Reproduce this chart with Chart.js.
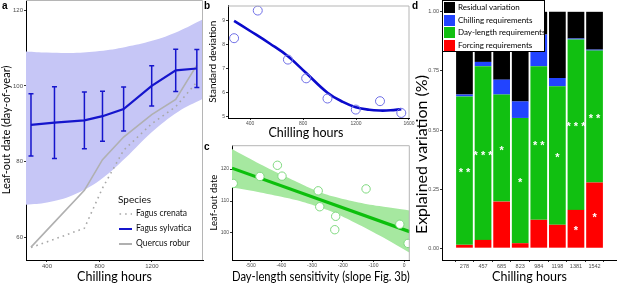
<!DOCTYPE html>
<html>
<head>
<meta charset="utf-8">
<script src="https://cdn.jsdelivr.net/npm/chart.js@4.4.1/dist/chart.umd.min.js"></script>
<style>
  body { margin: 0; background: #fff; }
  #wrap { position: relative; width: 617px; height: 284px; overflow: hidden; font-family: Lato, sans-serif; }
  canvas { position: absolute; }
  .tag { position: absolute; font: bold 10px "Liberation Sans", Arial, sans-serif; }
  .txt { position: absolute; white-space: nowrap; color: #111; }
  #legD { position: absolute; left: 442px; top: 0; width: 101px; height: 50px; background: #fff; border: 1px solid #000; }
  #legD div { position: absolute; left: 1px; width: 11px; height: 11px; }
  #legD span { position: absolute; left: 15px; font-size: 8px; line-height: 11px; white-space: nowrap; }
</style>
</head>
<body>
<div id="wrap">
  <canvas id="ca" width="206" height="284" style="left:0;top:0"></canvas>
  <canvas id="cb" width="215" height="142" style="left:200px;top:0"></canvas>
  <canvas id="cc" width="215" height="144" style="left:200px;top:140px"></canvas>
  <canvas id="cd" width="205" height="284" style="left:412px;top:0"></canvas>

  <div class="tag" style="left:2px;top:0">a</div>
  <div class="tag" style="left:204px;top:0">b</div>
  <div class="tag" style="left:204px;top:141px">c</div>
  <div class="tag" style="left:412px;top:0">d</div>

  <!-- legend of panel a -->
  <div class="txt" style="left:118px;top:193px;font-size:10px">Species</div>
  <svg style="position:absolute;left:118px;top:208px" width="16" height="42">
    <line x1="1.5" y1="6" x2="14" y2="6" stroke="#a8a8a8" stroke-width="1.6" stroke-dasharray="1.6 4" />
    <line x1="1" y1="21" x2="14" y2="21" stroke="#1515cc" stroke-width="2" />
    <line x1="1" y1="36" x2="14" y2="36" stroke="#b0b0b0" stroke-width="2" />
  </svg>
  <div class="txt" style="left:136px;top:208px;font-size:8.5px">Fagus crenata</div>
  <div class="txt" style="left:136px;top:223px;font-size:8.5px">Fagus sylvatica</div>
  <div class="txt" style="left:136px;top:238px;font-size:8.5px">Quercus robur</div>

  <!-- legend of panel d -->
  <div id="legD">
    <div style="top:1px;background:#000"></div><span style="top:1px">Residual variation</span>
    <div style="top:13.5px;background:#2244ff"></div><span style="top:13.5px">Chilling requirements</span>
    <div style="top:26px;background:#11c011"></div><span style="top:26px">Day-length requirements</span>
    <div style="top:38.5px;background:#ff0000"></div><span style="top:38.5px">Forcing requirements</span>
  </div>
</div>

<script>
// shared categories: chilling hours of the 8 sites
var chill = [278, 457, 685, 823, 984, 1198, 1381, 1542];

// panel a: leaf-out date (day-of-year)
var sylvMean = [89.7, 90.3, 90.9, 92.0, 93.9, 100.0, 104.1, 104.6];
var sylvErr = [8.2, 9.5, 7.5, 6.6, 5.8, 5.3, 5.6, 5.0];
var crenata = [57.3, 59.5, 62.4, 73.0, 83.0, 90.0, 94.5, 101.0];
var quercus = [57.4, 64.0, 72.4, 80.5, 86.5, 92.4, 96.4, 105.5];
var bandX = [240, 400, 600, 800, 1000, 1200, 1400, 1589];
var bandHi = [109.1, 108.8, 108.7, 109.2, 110.3, 111.9, 114.4, 117.6];
var bandLo = [68.6, 69.2, 71.2, 75.0, 81.0, 87.8, 93.2, 96.6];

// panel b: standard deviation vs chilling hours
var sdObs = [8.25, 9.4, 7.36, 6.58, 5.74, 5.28, 5.63, 5.14];
var sdFitX = [278, 400, 550, 685, 823, 984, 1100, 1198, 1300, 1381, 1460, 1542];
var sdFit = [8.97, 8.55, 8.02, 7.5, 6.8, 5.98, 5.6, 5.38, 5.27, 5.24, 5.25, 5.3];

// panel c: leaf-out date vs day-length sensitivity
var sens = [-557, -470, -413, -398, -280, -275, -223, -226, -124, -14, 13];
var leafOut = [115.5, 117.7, 121.2, 117.8, 113.2, 108.2, 105.2, 101.0, 113.8, 102.7, 96.7];
var fitX = [-561, 18];
var fitY = [120.3, 100.4];
var ciX = [-561, -480, -400, -330, -280, -230, -160, -80, 18];
var ciHi = [126.3, 122.1, 118.3, 115.1, 113.0, 111.4, 109.8, 108.4, 107.0];
var ciLo = [114.3, 112.9, 111.3, 109.7, 108.2, 106.4, 103.2, 99.2, 93.8];

// panel d: explained variation per site
var forcing = [0.014, 0.035, 0.197, 0.021, 0.12, 0.099, 0.162, 0.278];
var dayLength = [0.628, 0.735, 0.453, 0.53, 0.65, 0.586, 0.721, 0.558];
var chilling = [0.008, 0.018, 0.063, 0.07, 0.134, 0.035, 0.004, 0.004];
var residual = [0.35, 0.212, 0.287, 0.379, 0.096, 0.28, 0.113, 0.16];
var dayStars = ['**', '***', '*', '*', '**', '*', '***', '**'];
var forceStars = ['', '', '', '', '', '', '*', '*'];

function pts(xs, ys) {
  return xs.map(function (x, i) { return { x: x, y: ys[i] }; });
}

// trailing no-break spaces nudge a centred title off-centre
function pad(s, n) {
  return s + new Array(n + 1).join('\u00a0');
}

function axis(pos, min, max, values, title, size, o) {
  o = o || {};
  return {
    type: 'linear', position: pos, min: min, max: max,
    afterBuildTicks: function (s) { s.ticks = values.map(function (v) { return { value: v }; }); },
    afterFit: function (s) {
      if (pos === 'bottom') s.height = size; else s.width = size;
      s.paddingLeft = 0; s.paddingRight = 0; s.paddingTop = 0; s.paddingBottom = 0;
    },
    grid: { drawOnChartArea: false, tickLength: 2, tickColor: '#333' },
    border: { color: '#000', width: 1 },
    ticks: {
      font: { family: 'Liberation Sans', size: o.tick || 6 }, color: '#4d4d4d', padding: 1,
      maxRotation: 0, autoSkip: false, callback: function (v) { return String(v); }
    },
    title: { display: true, text: title, font: { family: 'Lato', size: o.title || 12.5 }, color: '#000', padding: o.pad || 0 }
  };
}

// gray top and right edge of the panel
var frame = {
  id: 'frame',
  afterDraw: function (chart) {
    var a = chart.chartArea, ctx = chart.ctx;
    ctx.save();
    ctx.strokeStyle = '#b5b5b5';
    ctx.lineWidth = 1;
    ctx.beginPath();
    ctx.moveTo(a.left, a.top + 0.5);
    ctx.lineTo(a.right - 0.5, a.top + 0.5);
    ctx.lineTo(a.right - 0.5, a.bottom);
    ctx.stroke();
    ctx.restore();
  }
};

var errorBars = {
  id: 'errorBars',
  afterDatasetsDraw: function (chart) {
    var ctx = chart.ctx, x = chart.scales.x, y = chart.scales.y;
    ctx.save();
    ctx.strokeStyle = '#1515cc';
    ctx.lineWidth = 1.5;
    chill.forEach(function (c, i) {
      var px = x.getPixelForValue(c);
      var top = y.getPixelForValue(sylvMean[i] + sylvErr[i]);
      var bot = y.getPixelForValue(sylvMean[i] - sylvErr[i]);
      ctx.beginPath();
      ctx.moveTo(px, top); ctx.lineTo(px, bot);
      ctx.moveTo(px - 2.5, top); ctx.lineTo(px + 2.5, top);
      ctx.moveTo(px - 2.5, bot); ctx.lineTo(px + 2.5, bot);
      ctx.stroke();
    });
    ctx.restore();
  }
};

var stars = {
  id: 'stars',
  afterDatasetsDraw: function (chart) {
    var ctx = chart.ctx;
    ctx.save();
    ctx.fillStyle = '#fff';
    ctx.font = 'bold 11px "Liberation Sans"';
    ctx.textAlign = 'center';
    ctx.textBaseline = 'middle';
    [[0, forceStars], [1, dayStars]].forEach(function (p) {
      chart.getDatasetMeta(p[0]).data.forEach(function (bar, i) {
        if (!p[1][i]) return;
        ctx.fillText(p[1][i].split('').join(' '), bar.x, (bar.y + bar.base) / 2 + 2.5);
      });
    });
    ctx.restore();
  }
};

Chart.defaults.animation = false;
Chart.defaults.plugins.legend.display = false;
Chart.defaults.plugins.tooltip.enabled = false;

// a
new Chart(document.getElementById('ca'), {
  type: 'line',
  data: {
    datasets: [
      { data: pts(bandX, bandHi), fill: '+1', backgroundColor: '#c6c6f6', borderWidth: 0, pointRadius: 0, tension: 0.4, order: 6 },
      { data: pts(bandX, bandLo), fill: false, borderWidth: 0, pointRadius: 0, tension: 0.4, order: 7 },
      { data: pts(chill, crenata), borderColor: '#a8a8a8', borderWidth: 1.6, borderDash: [1.6, 4], pointRadius: 0, order: 4 },
      { data: pts(chill, quercus), borderColor: '#b0b0b0', borderWidth: 1.6, pointRadius: 0, order: 3 },
      { data: pts(chill, sylvMean), borderColor: '#1515cc', borderWidth: 2.2, pointRadius: 0, order: 1 }
    ]
  },
  options: {
    responsive: false,
    layout: { padding: { top: 0, right: 3, left: 0, bottom: 0 } },
    scales: {
      x: axis('bottom', 240, 1589, [400, 800, 1200], 'Chilling hours', 24),
      y: axis('left', 54, 122.7, [60, 80, 100, 120], 'Leaf-out date (day-of-year)', 26, { title: 11 })
    }
  },
  plugins: [frame, errorBars]
});

// b
new Chart(document.getElementById('cb'), {
  type: 'line',
  data: {
    datasets: [
      { data: pts(chill, sdObs), showLine: false, pointRadius: 4.5, pointBorderWidth: 1, pointBorderColor: '#6f6fe6', pointBackgroundColor: 'rgba(255,255,255,0)', order: 1 },
      { data: pts(sdFitX, sdFit), borderColor: '#0a0acc', borderWidth: 2.6, pointRadius: 0, tension: 0.4, order: 2 }
    ]
  },
  options: {
    responsive: false,
    layout: { padding: { top: 1, right: 4, left: 0, bottom: 0 } },
    scales: {
      x: axis('bottom', 232, 1604, [400, 800, 1200, 1600], pad('Chilling hours', 8), 24, { tick: 5, pad: { top: 0, bottom: 1.5 } }),
      y: axis('left', 4.93, 9.61, [5, 6, 7, 8, 9], 'Standard deviation', 28, { tick: 5, title: 10, pad: { top: 7, bottom: 0 } })
    }
  },
  plugins: [frame]
});

// c
new Chart(document.getElementById('cc'), {
  type: 'line',
  data: {
    datasets: [
      { data: pts(ciX, ciHi), fill: '+1', backgroundColor: '#a6e8a0', borderWidth: 0, pointRadius: 0, tension: 0.4, order: 5 },
      { data: pts(ciX, ciLo), fill: false, borderWidth: 0, pointRadius: 0, tension: 0.4, order: 6 },
      { data: pts(fitX, fitY), borderColor: '#0cbf0c', borderWidth: 3.2, pointRadius: 0, order: 2 },
      { data: pts(sens, leafOut), showLine: false, pointRadius: 4.2, pointBorderWidth: 1, pointBorderColor: '#7fd97f', pointBackgroundColor: '#fff', order: 1 }
    ]
  },
  options: {
    responsive: false,
    layout: { padding: { top: 4, right: 5, left: 0, bottom: 0 } },
    scales: {
      x: axis('bottom', -561, 18.6, [-500, -400, -300, -200, -100, 0], 'Day-length sensitivity (slope Fig. 3b)', 24, { tick: 5 }),
      y: axis('left', 91.5, 127.5, [100, 110, 120], 'Leaf-out date', 32, { tick: 5, title: 9.5, pad: { top: 8, bottom: 0 } })
    }
  },
  plugins: [frame]
});

// d
var xd = axis('bottom', -0.62, 7.62, chill.map(function (c, i) { return i; }), 'Chilling hours', 24, { tick: 5.5 });
xd.ticks.callback = function (v) { return chill[v]; };
xd.stacked = true;
var yd = axis('left', -0.05, 1.05, [0, 0.25, 0.5, 0.75, 1], pad('Explained variation (%)', 12), 30, { tick: 5.5, title: 16 });
yd.ticks.callback = function (v) { return v.toFixed(2); };
yd.stacked = true;

new Chart(document.getElementById('cd'), {
  type: 'bar',
  data: {
    datasets: [
      { label: 'Forcing requirements', data: pts([0, 1, 2, 3, 4, 5, 6, 7], forcing), backgroundColor: '#ff0000' },
      { label: 'Day-length requirements', data: pts([0, 1, 2, 3, 4, 5, 6, 7], dayLength), backgroundColor: '#11c011' },
      { label: 'Chilling requirements', data: pts([0, 1, 2, 3, 4, 5, 6, 7], chilling), backgroundColor: '#2244ff' },
      { label: 'Residual variation', data: pts([0, 1, 2, 3, 4, 5, 6, 7], residual), backgroundColor: '#000000' }
    ]
  },
  options: {
    responsive: false,
    layout: { padding: { top: 0, right: 0, left: 0, bottom: 0 } },
    datasets: { bar: { categoryPercentage: 1, barPercentage: 0.9, borderWidth: 0 } },
    scales: { x: xd, y: yd }
  },
  plugins: [stars]
});
</script>
</body>
</html>
